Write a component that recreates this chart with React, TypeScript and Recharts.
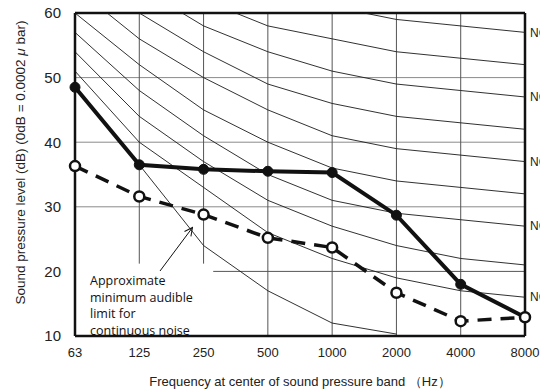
import React from "react";
import {
  LineChart,
  Line,
  XAxis,
  YAxis,
  ReferenceLine,
  Label,
} from "recharts";

// octave band centre frequencies (Hz)
const freqLabels = ["63", "125", "250", "500", "1000", "2000", "4000", "8000"];

// NC curves, dB per band
const nc20 = [51, 40, 33, 26, 22, 19, 17, 16];
const nc25 = [54, 44, 37, 31, 27, 24, 22, 21];
const nc30 = [57, 48, 41, 35, 31, 29, 28, 27];
const nc35 = [60, 52, 45, 40, 36, 34, 33, 32];
const nc40 = [64, 56, 50, 45, 41, 39, 38, 37];
const nc45 = [67, 60, 54, 49, 46, 44, 43, 42];
const nc50 = [71, 64, 58, 54, 51, 49, 48, 47];
const nc55 = [74, 67, 62, 58, 56, 54, 53, 52];
const nc60 = [77, 71, 67, 63, 61, 59, 58, 57];

// approximate minimum audible limit for continuous noise
const audibleLimit = [48.5, 36.5, 24, 17, 12, 10.3, null, null];

// measured spectra
const solidLevels = [48.5, 36.5, 35.8, 35.5, 35.3, 28.7, 18, 12.9];
const dashedLevels = [36.3, 31.6, 28.8, 25.2, 23.7, 16.7, 12.3, 12.9];

const ncCurves: { key: string; values: number[]; label?: string }[] = [
  { key: "nc20", values: nc20, label: "NC-20" },
  { key: "nc25", values: nc25 },
  { key: "nc30", values: nc30, label: "NC-30" },
  { key: "nc35", values: nc35 },
  { key: "nc40", values: nc40, label: "NC-40" },
  { key: "nc45", values: nc45 },
  { key: "nc50", values: nc50, label: "NC-50" },
  { key: "nc55", values: nc55 },
  { key: "nc60", values: nc60, label: "NC-60" },
];

const data = freqLabels.map((f, i) => {
  const row: any = { i, freq: f, limit: audibleLimit[i], solid: solidLevels[i], dashed: dashedLevels[i] };
  ncCurves.forEach((c) => (row[c.key] = c.values[i]));
  return row;
});

const FONT = "'Liberation Sans', Arial, sans-serif";
const GRID_V = "#555";
const GRID_H = "#8a8a8a";

// NC label at the 8000 Hz end of a curve (runs past the right edge, as in the source)
const endLabel = (text: string) => (p: any) =>
  p.index === freqLabels.length - 1 ? (
    <text x={p.x + 5} y={p.y} dy="0.35em" fontSize={12} fill="#222" fontFamily={FONT}>
      {text}
    </text>
  ) : null;

const YTitle = (props: any) => {
  const vb = props.viewBox || { x: 0, y: 13, width: 75, height: 323 };
  const cx = vb.x + 20;
  const cy = vb.y + vb.height / 2 - 12;
  return (
    <text
      x={cx}
      y={cy}
      transform={`rotate(-90, ${cx}, ${cy})`}
      textAnchor="middle"
      dominantBaseline="central"
      fontSize={13.5}
      fill="#222"
      fontFamily={FONT}
    >
      Sound pressure level (dB) (0dB = 0.0002 <tspan fontStyle="italic">μ</tspan> bar)
    </text>
  );
};

export default function App() {
  return (
    <div style={{ position: "absolute", left: 0, top: 0, width: 540, height: 392, overflow: "hidden", background: "#fff" }}>
      <svg width={540} height={392} style={{ position: "absolute", left: 0, top: 0 }}>
        <defs>
          <marker id="arrowHead" markerWidth="10" markerHeight="10" refX="9" refY="5" orient="auto" markerUnits="userSpaceOnUse">
            <path d="M1,1 L9,5 L1,9" fill="none" stroke="#111" strokeWidth={1} />
          </marker>
        </defs>
        <line x1={160} y1={271} x2={192.5} y2={227.5} stroke="#111" strokeWidth={1} markerEnd="url(#arrowHead)" />
        <text fontSize={12.5} fill="#111" fontFamily="'Open Sans', sans-serif">
          <tspan x={90} y={285}>Approximate</tspan>
          <tspan x={90} y={301.5}>minimum audible</tspan>
          <tspan x={90} y={318}>limit for</tspan>
          <tspan x={90} y={334.5}>continuous noise</tspan>
        </text>
      </svg>
      <div style={{ position: "absolute", left: 0, top: 0 }}>
        <LineChart width={540} height={392} data={data} margin={{ top: 13, right: 15, bottom: 0, left: 0 }}>
          <XAxis
            type="number"
            dataKey="i"
            domain={[0, 7]}
            ticks={[0, 1, 2, 3, 4, 5, 6, 7]}
            tickFormatter={(v: number) => freqLabels[v]}
            interval={0}
            height={56}
            axisLine={{ stroke: "#111", strokeWidth: 2.5 }}
            tickLine={false}
            tickMargin={6}
            tick={{ fontSize: 13, fill: "#222", fontFamily: FONT }}
          >
            <Label
              value="Frequency at center of sound pressure band （Hz）"
              position="insideBottom"
              offset={6}
              style={{ fontSize: 13, fill: "#222", fontFamily: FONT }}
            />
          </XAxis>
          <YAxis
            type="number"
            domain={[10, 60]}
            ticks={[10, 20, 30, 40, 50, 60]}
            allowDataOverflow
            width={75}
            axisLine={{ stroke: "#111", strokeWidth: 2.5 }}
            tickLine={false}
            tickMargin={8}
            tick={{ fontSize: 15, fill: "#222", fontFamily: FONT }}
          >
            <Label content={<YTitle />} />
          </YAxis>

          {/* grid */}
          <ReferenceLine y={30} stroke={GRID_H} strokeWidth={1} />
          <ReferenceLine y={40} stroke={GRID_H} strokeWidth={1} />
          <ReferenceLine y={50} stroke={GRID_H} strokeWidth={1} />
          <ReferenceLine segment={[{ x: 2.15, y: 20 }, { x: 7, y: 20 }]} stroke={GRID_V} strokeWidth={1} />
          <ReferenceLine segment={[{ x: 1, y: 21.2 }, { x: 1, y: 60 }]} stroke={GRID_V} strokeWidth={1} />
          <ReferenceLine segment={[{ x: 2, y: 21.2 }, { x: 2, y: 60 }]} stroke={GRID_V} strokeWidth={1} />
          {[3, 4, 5, 6].map((x) => (
            <ReferenceLine key={x} x={x} stroke={GRID_V} strokeWidth={1} />
          ))}
          <ReferenceLine y={60} stroke="#111" strokeWidth={2.5} />
          <ReferenceLine x={7} stroke="#111" strokeWidth={2.5} />

          {ncCurves.map((c) => (
            <Line
              key={c.key}
              dataKey={c.key}
              type="linear"
              stroke="#1a1a1a"
              strokeWidth={0.9}
              dot={false}
              activeDot={false}
              isAnimationActive={false}
              label={c.label ? endLabel(c.label) : false}
            />
          ))}
          <Line
            dataKey="limit"
            type="linear"
            stroke="#1a1a1a"
            strokeWidth={0.9}
            dot={false}
            activeDot={false}
            isAnimationActive={false}
          />
          <Line
            dataKey="solid"
            type="linear"
            stroke="#111"
            strokeWidth={4}
            dot={{ r: 5, fill: "#111", stroke: "#111", strokeWidth: 1 }}
            activeDot={false}
            isAnimationActive={false}
          />
          <Line
            dataKey="dashed"
            type="linear"
            stroke="#111"
            strokeWidth={3.5}
            strokeDasharray="14 9"
            dot={{ r: 5, fill: "#fff", stroke: "#111", strokeWidth: 2.5, strokeDasharray: "" }}
            activeDot={false}
            isAnimationActive={false}
          />
        </LineChart>
      </div>
    </div>
  );
}
